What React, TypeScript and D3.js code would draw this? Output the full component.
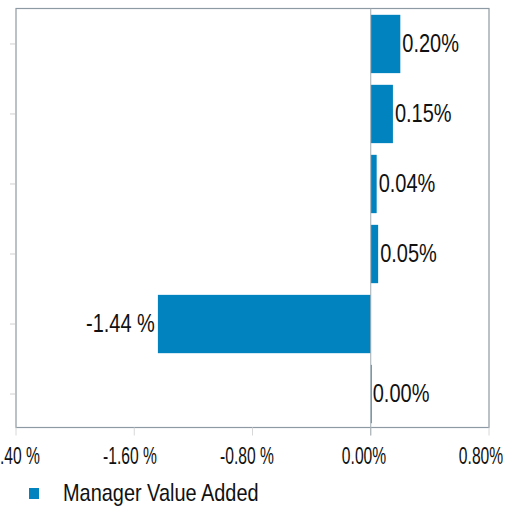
import React from "react";
import * as d3 from "d3";

const categories = ["A", "B", "C", "D", "E", "F"];
const values = [0.2, 0.15, 0.04, 0.05, -1.44, 0.0];
const valueLabels = ["0.20%", "0.15%", "0.04%", "0.05%", "-1.44 %", "0.00%"];
const xTicks = [-2.4, -1.6, -0.8, 0, 0.8];
const xTickLabels = ["-2.40 %", "-1.60 %", "-0.80 %", "0.00%", "0.80%"];
const seriesName = "Manager Value Added";

const BLUE = "#0083BE";
const FRAME = "#8d9aa3";
const FONT = "'Liberation Sans', Arial, Helvetica, sans-serif";

export default function App() {
  const W = 503;
  const H = 507;
  const x = d3.scaleLinear().domain([-2.4, 0.8]).range([16, 489]);
  const xLabel = x.copy().range([13, 481]);
  const y = d3
    .scaleBand<string>()
    .domain(categories)
    .range([9, 429])
    .paddingInner(0.167)
    .paddingOuter(0.083);
  const top = 8.5;
  const bottom = 427.5;
  const x0 = x(0);

  return (
    <svg
      width={W}
      height={H}
      style={{ position: "absolute", left: 0, top: 0, background: "#fff" }}
      fontFamily={FONT}
    >
      {categories.map((c) => {
        const cy = (y(c) as number) + y.bandwidth() / 2;
        return (
          <line key={"yt" + c} x1={10} x2={15} y1={cy} y2={cy} stroke="#cfcfcf" strokeWidth={1} />
        );
      })}
      <rect
        x={x(-2.4)}
        y={top}
        width={x(0.8) - x(-2.4)}
        height={bottom - top}
        fill="none"
        stroke={FRAME}
        strokeWidth={1.2}
      />
      {xTicks.map((t) => (
        <line
          key={"xt" + t}
          x1={x(t)}
          x2={x(t)}
          y1={bottom}
          y2={bottom + 8}
          stroke="#d8d8d8"
          strokeWidth={1}
        />
      ))}
      {values.map((v, i) => {
        const c = categories[i];
        const x1 = Math.min(x(v), x0);
        const w = Math.max(1, Math.abs(x(v) - x0));
        return (
          <rect key={"b" + c} x={x1} y={y(c) as number} width={w} height={y.bandwidth()} fill={BLUE} />
        );
      })}
      <line x1={x0} x2={x0} y1={top} y2={bottom + 8} stroke="#a3acb2" strokeWidth={1} />
      {values.map((v, i) => {
        const c = categories[i];
        const cy = (y(c) as number) + y.bandwidth() / 2;
        const neg = v < 0;
        const tx = neg ? x(v) - 3 : x(v) + 2;
        return (
          <text
            key={"vl" + c}
            transform={`translate(${tx},${cy + 8}) scale(0.8,1)`}
            fontSize={25}
            fill="#111"
            textAnchor={neg ? "end" : "start"}
          >
            {valueLabels[i]}
          </text>
        );
      })}
      {xTicks.map((t, i) => (
        <text
          key={"xl" + t}
          transform={`translate(${xLabel(t)},${464}) scale(0.68,1)`}
          fontSize={23}
          fill="#111"
          textAnchor="middle"
        >
          {xTickLabels[i]}
        </text>
      ))}
      <rect x={29} y={488} width={10} height={11} fill={BLUE} />
      <text transform={`translate(63,501) scale(0.83,1)`} fontSize={24} fill="#111">
        {seriesName}
      </text>
    </svg>
  );
}
